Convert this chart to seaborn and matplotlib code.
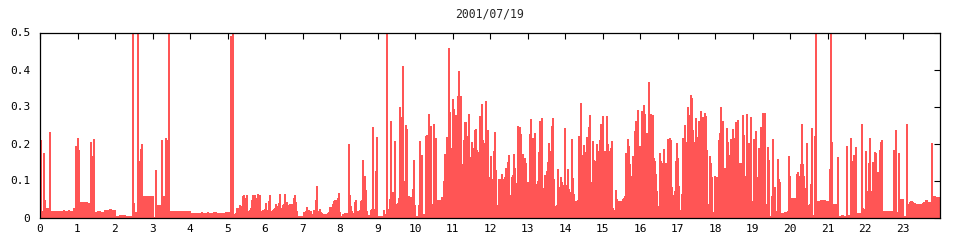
import numpy as np
import pandas as pd
import matplotlib
matplotlib.use("Agg")
import matplotlib.pyplot as plt
import seaborn as sns

TITLE = "2001/07/19"
SAMPLE_MINUTES = 1.6  # one sample per 1.6 minutes (900 samples per day)
BAR_COLOR = "#ff5555"

# values per sample, in chunks of 100 samples (each chunk = 2h40m)
v_0000_0240 = [
    .21, .018, .018, .174, .047, .025, .025, .025, .025, .23,
    .018, .018, .018, .018, .018, .018, .018, .018, .018, .018,
    .018, .018, .018, .021, .018, .018, .018, .018, .02, .018,
    .018, .018, .018, .025, .025, .194, .041, .214, .182, .039,
    .041, .041, .041, .039, .041, .041, .041, .039, .039, .039,
    .204, .122, .166, .212, .016, .016, .016, .018, .018, .018,
    .016, .016, .016, .016, .02, .02, .02, .02, .02, .023,
    .023, .02, .02, .02, .02, .003, .003, .003, .003, .006,
    .006, .006, .006, .006, .006, .004, .004, .004, .004, .004,
    .004, .004, .6, .04, .015, .015, .015, .6, .152, .045,
]
v_0240_0520 = [
    .185, .2, .058, .058, .058, .058, .058, .058, .058, .058,
    .058, .058, .058, .001, .002, .128, .033, .033, .033, .033,
    .033, .209, .058, .058, .058, .215, .209, .022, .6, .018,
    .018, .018, .018, .018, .018, .018, .018, .018, .018, .018,
    .018, .018, .018, .018, .018, .018, .018, .018, .018, .018,
    .013, .013, .013, .013, .013, .013, .013, .013, .013, .013,
    .013, .015, .013, .013, .013, .013, .013, .015, .013, .013,
    .013, .013, .013, .015, .013, .015, .013, .013, .013, .013,
    .013, .013, .013, .013, .013, .016, .016, .016, .016, .013,
    .49, .064, .6, .009, .009, .011, .025, .018, .025, .034,
]
v_0520_0800 = [
    .018, .032, .058, .06, .018, .052, .06, .018, .018, .02,
    .025, .047, .06, .025, .06, .022, .052, .063, .037, .06,
    .018, .018, .02, .016, .022, .039, .02, .02, .044, .06,
    .018, .016, .02, .022, .025, .036, .031, .031, .039, .064,
    .018, .025, .033, .036, .064, .036, .043, .028, .033, .036,
    .023, .036, .025, .052, .061, .043, .018, .004, .004, .004,
    .004, .004, .004, .014, .014, .018, .029, .02, .02, .01,
    .018, .004, .01, .02, .019, .047, .086, .015, .018, .023,
    .016, .013, .01, .01, .01, .01, .01, .013, .015, .029,
    .029, .023, .036, .045, .047, .047, .047, .052, .067, .015,
]
v_0800_1040 = [
    .005, .005, .01, .01, .013, .013, .013, .013, .2, .06,
    .031, .018, .012, .012, .043, .047, .018, .015, .018, .02,
    .045, .048, .155, .031, .112, .073, .018, .004, .007, .007,
    .019, .022, .244, .022, .024, .125, .217, .004, .004, .004,
    .004, .004, .004, .02, .01, .01, .6, .022, .015, .05,
    .26, .068, .068, .068, .206, .034, .037, .039, .052, .298,
    .155, .271, .409, .1, .003, .251, .239, .052, .058, .055,
    .055, .055, .076, .155, .033, .004, .004, .004, .033, .206,
    .01, .168, .01, .01, .01, .22, .222, .212, .279, .239,
    .247, .036, .034, .252, .044, .214, .047, .036, .047, .035,
]
v_1040_1320 = [
    .046, .055, .055, .098, .172, .034, .217, .05, .458, .285,
    .023, .187, .32, .293, .268, .276, .177, .328, .395, .218,
    .328, .063, .144, .209, .258, .258, .22, .214, .279, .034,
    .163, .204, .117, .187, .236, .239, .182, .176, .176, .274,
    .209, .306, .209, .158, .201, .314, .109, .236, .017, .109,
    .166, .104, .104, .181, .232, .128, .033, .018, .104, .095,
    .104, .117, .104, .098, .109, .133, .109, .15, .168, .061,
    .018, .109, .115, .171, .133, .093, .093, .247, .093, .244,
    .225, .104, .171, .093, .16, .147, .095, .095, .074, .225,
    .266, .155, .214, .136, .228, .025, .09, .098, .177, .26,
]
v_1320_1600 = [
    .26, .268, .009, .079, .114, .052, .125, .15, .201, .179,
    .179, .247, .268, .104, .028, .031, .033, .131, .082, .058,
    .109, .095, .087, .028, .241, .055, .087, .131, .077, .06,
    .068, .212, .106, .063, .044, .044, .036, .047, .22, .198,
    .309, .168, .16, .197, .125, .177, .217, .052, .244, .277,
    .006, .095, .206, .155, .152, .12, .199, .179, .123, .209,
    .252, .228, .274, .166, .18, .036, .274, .198, .158, .179,
    .187, .206, .025, .017, .02, .074, .05, .044, .044, .044,
    .044, .044, .049, .052, .058, .174, .058, .212, .193, .144,
    .112, .104, .166, .163, .233, .26, .179, .29, .141, .193,
]
v_1600_1840 = [
    .194, .287, .179, .304, .279, .131, .228, .131, .366, .187,
    .279, .255, .277, .16, .152, .117, .071, .028, .031, .174,
    .152, .147, .058, .185, .058, .147, .02, .212, .204, .214,
    .209, .082, .06, .058, .071, .152, .201, .16, .085, .017,
    .02, .063, .214, .074, .25, .16, .204, .298, .277, .131,
    .331, .323, .236, .204, .12, .268, .217, .152, .26, .25,
    .287, .269, .271, .266, .282, .274, .182, .036, .036, .166,
    .147, .109, .012, .014, .112, .106, .109, .106, .209, .228,
    .298, .179, .26, .133, .063, .133, .241, .204, .104, .168,
    .212, .168, .239, .214, .152, .258, .258, .263, .006, .147,
]
v_1840_2120 = [
    .147, .133, .277, .223, .112, .09, .279, .195, .201, .158,
    .271, .041, .044, .212, .012, .233, .109, .098, .187, .133,
    .244, .123, .282, .036, .282, .036, .012, .19, .155, .004,
    .004, .058, .212, .052, .082, .014, .017, .158, .104, .095,
    .009, .012, .012, .012, .014, .014, .014, .017, .166, .112,
    .05, .052, .05, .052, .052, .052, .117, .123, .02, .112,
    .144, .252, .144, .112, .06, .079, .201, .033, .033, .036,
    .09, .241, .004, .006, .22, .6, .044, .044, .044, .044,
    .047, .047, .044, .047, .047, .044, .044, .044, .004, .131,
    .6, .204, .036, .036, .036, .036, .036, .163, .004, .004,
]
v_2120_2400 = [
    .004, .006, .006, .004, .004, .004, .193, .004, .006, .006,
    .214, .144, .152, .168, .004, .19, .012, .012, .009, .012,
    .012, .252, .025, .023, .023, .181, .071, .047, .147, .214,
    .014, .071, .15, .15, .177, .174, .033, .123, .006, .182,
    .204, .209, .017, .017, .017, .017, .017, .017, .017, .017,
    .017, .017, .017, .182, .168, .236, .014, .014, .174, .05,
    .05, .05, .05, .004, .004, .004, .252, .036, .036, .041,
    .044, .044, .041, .039, .039, .036, .036, .036, .036, .036,
    .036, .036, .039, .041, .041, .047, .047, .041, .041, .041,
    .041, .201, .055, .057, .057, .055, .055, .055, .055, .055,
]

values = np.array(v_0000_0240 + v_0240_0520 + v_0520_0800 + v_0800_1040 +
                  v_1040_1320 + v_1320_1600 + v_1600_1840 + v_1840_2120 +
                  v_2120_2400)
n = len(values)
hours = (np.arange(n) + 0.5) * SAMPLE_MINUTES / 60.0
df = pd.DataFrame({"hour": hours, "load": values})

X_TICKS = list(range(0, 24))
X_TICK_LABELS = [str(h) for h in X_TICKS]
Y_TICKS = [0, 0.1, 0.2, 0.3, 0.4, 0.5]
Y_TICK_LABELS = ["0", "0.1", "0.2", "0.3", "0.4", "0.5"]

sns.set_style("white")
plt.rcParams["font.family"] = ["DejaVu Sans Mono", "DejaVu Sans"]

fig = plt.figure(figsize=(9.6, 2.4), dpi=100)
ax = fig.add_axes([40 / 960, 1 - 217.5 / 240, 900 / 960, 185 / 240])

sns.histplot(data=df, x="hour", weights="load", bins=n, binrange=(0, 24),
             element="bars", fill=True, color=BAR_COLOR, alpha=1.0,
             edgecolor=BAR_COLOR, linewidth=0.4, antialiased=False, ax=ax)

ax.set_xlim(0, 24)
ax.set_ylim(0, 0.5)
ax.set_xticks(X_TICKS)
ax.set_xticklabels(X_TICK_LABELS)
ax.set_yticks(Y_TICKS)
ax.set_yticklabels(Y_TICK_LABELS)
ax.set_xlabel("")
ax.set_ylabel("")
ax.tick_params(direction="in", top=True, right=True, length=4.5, width=0.8,
               labelsize=8, colors="black")
ax.tick_params(axis="x", pad=5)
ax.tick_params(axis="y", pad=7)
for s in ax.spines.values():
    s.set_visible(True)
    s.set_color("black")
    s.set_linewidth(0.9)
    s.set_zorder(5)
ax.set_title(TITLE, fontsize=8.3, pad=11)
ax.grid(False)

fig.savefig("out.png", dpi=100, facecolor="white")
